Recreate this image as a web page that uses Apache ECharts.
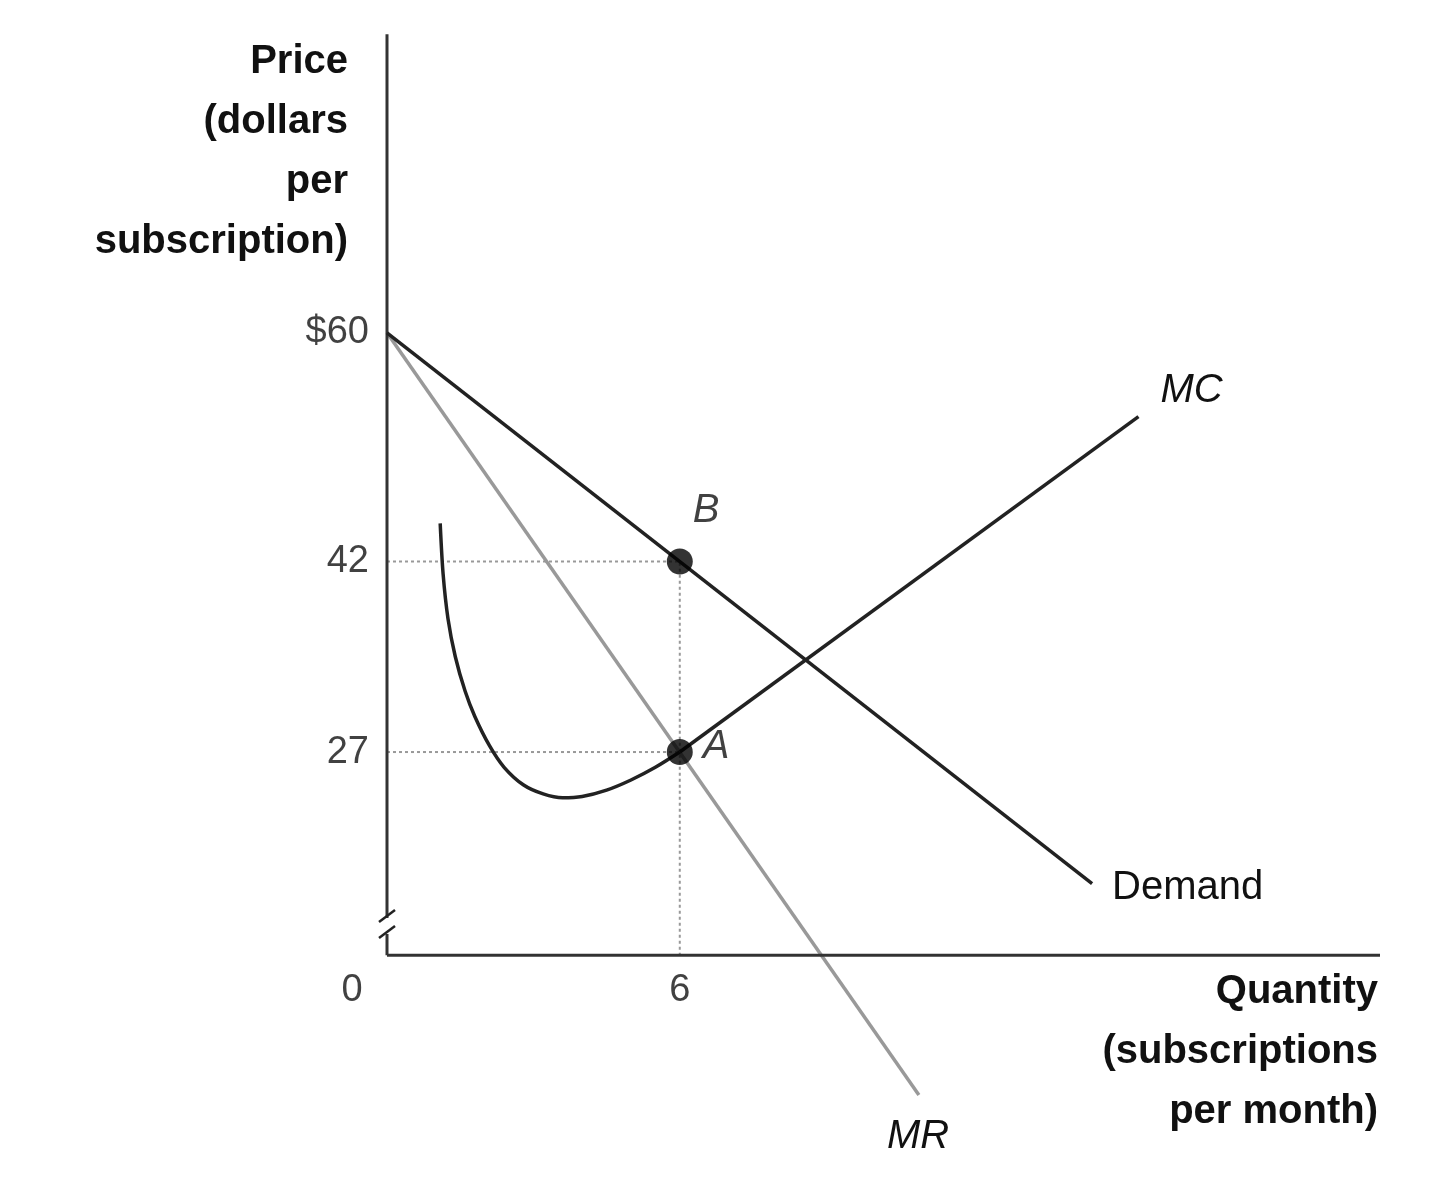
<!DOCTYPE html>
<html><head><meta charset="utf-8">
<script src="https://cdn.jsdelivr.net/npm/echarts@6/dist/echarts.min.js"></script>
<style>html,body{margin:0;padding:0;background:#fff}#c{width:1440px;height:1183px}</style>
</head><body><div id="c"></div>
<script>
const demand = [[0,60],[14.45,16.65]];
const mr = [[0,60],[10.9,0]];
const mcCurve = [[1.09,45],[1.15,41],[1.25,37.5],[1.4,34.5],[1.6,31.8],[1.8,29.8],[2.1,27.5],[2.4,25.8],[2.8,24.4],[3.2,23.7],[3.6,23.4],[4.0,23.5],[4.5,24],[5.0,24.8],[5.5,25.8],[6,27]];
const mcLine = [[6,27],[15.4,53.4]];
const points = [[6,42,'B'],[6,27,'A']];
const yTicks = [[60,'$60'],[42,'42'],[27,'27']];
const xTicks = [[0,'0'],[6,'6']];
const axisBase = 11;
const F = 'Liberation Sans, Arial, sans-serif';
const lab = (o)=>Object.assign({fontSize:40,fontFamily:F,color:'#111'},o);
const chart = echarts.init(document.getElementById('c'));
const dotted = {color:'#999',width:2,type:[3,3]};
chart.setOption({
  animation:false,
  grid:{left:387,right:60,top:28,bottom:88},
  xAxis:{type:'value',min:0,max:20.35,show:false},
  yAxis:{type:'value',min:0,max:84,show:false},
  graphic:[
    {type:'text',x:348,y:32,style:{text:'Price\n(dollars\nper\nsubscription)',fontSize:40,fontWeight:'bold',fontFamily:F,fill:'#111',align:'right',lineHeight:60}},
    {type:'text',x:1378,y:962,style:{text:'Quantity\n(subscriptions\nper month)',fontSize:40,fontWeight:'bold',fontFamily:F,fill:'#111',align:'right',lineHeight:60}},
    {type:'rect',shape:{x:380,y:918,width:14,height:16},style:{fill:'#fff'},z:100},
    {type:'polyline',shape:{points:[[379,922],[395,910]]},style:{stroke:'#222',lineWidth:2.5},z:101},
    {type:'polyline',shape:{points:[[379,938],[395,926]]},style:{stroke:'#222',lineWidth:2.5},z:101}
  ],
  series:[
    {type:'line',data:[[0,axisBase],[20.35,axisBase]],symbol:'none',lineStyle:{color:'#333',width:3},z:3},
    {type:'line',data:[[0,axisBase],[0,83.5]],symbol:'none',lineStyle:{color:'#333',width:3},z:3},
    {type:'line',data:[[0,42],[6,42],[6,axisBase]],symbol:'none',lineStyle:dotted,z:1},
    {type:'line',data:[[0,27],[6,27]],symbol:'none',lineStyle:dotted,z:1},
    {type:'line',data:mr,symbol:'none',lineStyle:{color:'#999',width:3.5},z:2,
      endLabel:lab({show:true,formatter:'MR',fontStyle:'italic',offset:[-40,42]})},
    {type:'line',data:demand,symbol:'none',lineStyle:{color:'#222',width:3.5},z:4,
      endLabel:lab({show:true,formatter:'Demand',offset:[12,4]})},
    {type:'line',data:mcCurve,symbol:'none',smooth:0.3,lineStyle:{color:'#222',width:3.5},z:4},
    {type:'line',data:mcLine,symbol:'none',lineStyle:{color:'#222',width:3.5},z:4,
      endLabel:lab({show:true,formatter:'MC',fontStyle:'italic',offset:[14,-26]})},
    {type:'scatter',data:points.map(p=>({value:[p[0],p[1]],label:lab({show:true,formatter:p[2],fontStyle:'italic',position:p[2]==='B'?[26,-58]:[36,-12]})})),
      symbolSize:26,itemStyle:{color:'#000'},z:6},
    {type:'scatter',data:yTicks.map(t=>({value:[0,t[0]],label:lab({show:true,formatter:t[1],position:'left',distance:18,fontSize:38})})),symbolSize:0},
    {type:'scatter',data:xTicks.map(t=>({value:[t[0],axisBase],label:lab({show:true,formatter:t[1],position:'bottom',distance:16,fontSize:38,offset:t[0]===0?[-35,0]:[0,0]})})),symbolSize:0}
  ]
});
</script></body></html>
